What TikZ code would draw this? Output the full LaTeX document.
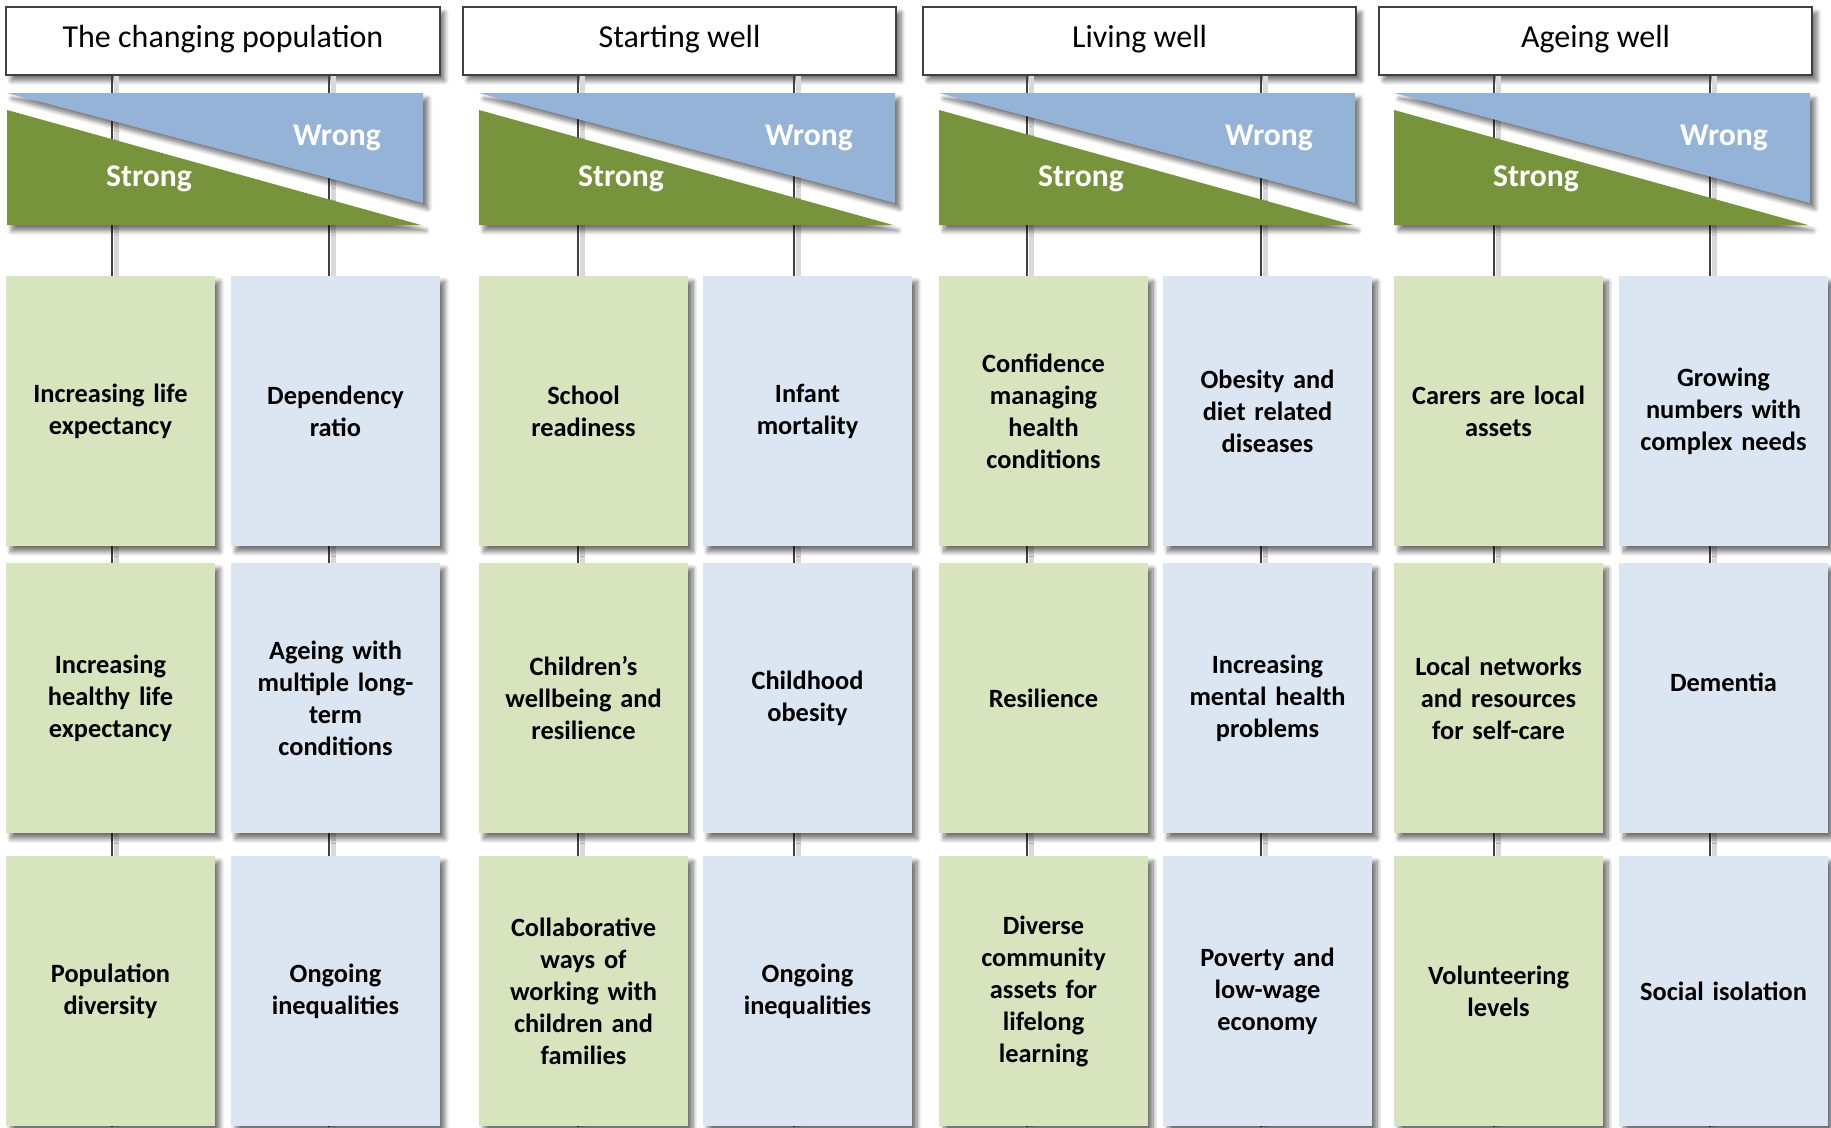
\documentclass[tikz,border=0pt]{standalone}
\usepackage{fontspec}
\setmainfont{Carlito}
\usetikzlibrary{shadows.blur}

\definecolor{gDark}{HTML}{77933C}
\definecolor{bMid}{HTML}{95B3D7}
\definecolor{gLight}{HTML}{D7E4BD}
\definecolor{bLight}{HTML}{DCE6F2}
\definecolor{edge}{HTML}{404040}

\tikzset{
  softshadow/.style={blur shadow={shadow xshift=1.4pt, shadow yshift=-1.6pt,
      shadow blur radius=1.3pt, shadow opacity=55, shadow blur steps=8}},
  card/.style={rectangle, minimum width=2.09cm, minimum height=2.70cm,
      inner sep=0pt, align=center, text width=2.05cm,
      font=\fontsize{7.5}{9.1}\selectfont\bfseries, softshadow},
  gcard/.style={card, fill=gLight},
  bcard/.style={card, fill=bLight},
  head/.style={rectangle, draw=edge, line width=0.6pt, fill=white,
      minimum width=4.33cm, minimum height=0.68cm, inner sep=0pt,
      text height=0.25cm, text depth=0.13cm,
      font=\fontsize{9.1}{11}\selectfont, softshadow},
  tag/.style={font=\fontsize{9}{11}\selectfont\bfseries, text=white,
      anchor=base, inner sep=0pt},
  link/.style={draw=edge, line width=0.6pt},
  linkshade/.style={draw=black!15, line width=1.2pt},
  greenwedge/.style={fill=gDark, softshadow},
  bluewedge/.style={fill=bMid, softshadow},
}

\begin{document}
\begin{tikzpicture}[x=0.01cm, y=-0.01cm]
\useasboundingbox (0,0) rectangle (1831,1127);

% guide positions of the vertical connectors
\coordinate (L1a) at (112,0);  \coordinate (L1b) at (329,0);
\coordinate (L2a) at (578,0);  \coordinate (L2b) at (794,0);
\coordinate (L3a) at (1027,0); \coordinate (L3b) at (1261,0);
\coordinate (L4a) at (1494,0); \coordinate (L4b) at (1710,0);
\coordinate (Bot) at (0,1127);

% column headers
\node[head] (h1) at (223,41)    {The changing population};
\node[head] (h2) at (679.5,41)  {Starting well};
\node[head] (h3) at (1139.5,41) {Living well};
\node[head] (h4) at (1595.5,41) {Ageing well};

% vertical connectors, drawn behind wedges and cards
\foreach \c in {1,2,3,4}{
  \foreach \s in {a,b}{
    \draw[linkshade] ([xshift=1.3pt]h\c.south -| L\c\s) -- ([xshift=1.3pt]L\c\s |- Bot);
    \draw[link] (h\c.south -| L\c\s) -- (L\c\s |- Bot);
  }
}

% strong / wrong wedges
\foreach \tl/\tr/\n in {7/423/1, 479/895/2, 939/1355/3, 1394/1810/4}{
  \fill[bluewedge] (\tl,93) -- (\tr,93) -- (\tr,203) -- cycle;
  \fill[greenwedge] (\tl,110) -- (\tl,225) -- (\tr-2,225) -- cycle;
  \node[tag] (s\n) at (\tl+142,186) {Strong};
  \node[tag] (w\n) at (\tl+330,145) {Wrong};
}

% column 1
\node[gcard] (g11) at (110.5,411) {Increasing life\\expectancy};
\node[bcard] (b11) at (335.5,411) {Dependency\\ratio};
\node[gcard] (g12) at (110.5,698) {Increasing\\healthy life\\expectancy};
\node[bcard] (b12) at (335.5,698) {Ageing with\\multiple long-\\term\\conditions};
\node[gcard] (g13) at (110.5,991) {Population\\diversity};
\node[bcard] (b13) at (335.5,991) {Ongoing\\inequalities};

% column 2
\node[gcard] (g21) at (583.5,411) {School\\readiness};
\node[bcard] (b21) at (807.5,411) {Infant\\mortality};
\node[gcard] (g22) at (583.5,698) {Children’s\\wellbeing and\\resilience};
\node[bcard] (b22) at (807.5,698) {Childhood\\obesity};
\node[gcard] (g23) at (583.5,991) {Collaborative\\ways of\\working with\\children and\\families};
\node[bcard] (b23) at (807.5,991) {Ongoing\\inequalities};

% column 3
\node[gcard] (g31) at (1043.5,411) {Confidence\\managing\\health\\conditions};
\node[bcard] (b31) at (1267.5,411) {Obesity and\\diet related\\diseases};
\node[gcard] (g32) at (1043.5,698) {Resilience};
\node[bcard] (b32) at (1267.5,698) {Increasing\\mental health\\problems};
\node[gcard] (g33) at (1043.5,991) {Diverse\\community\\assets for\\lifelong\\learning};
\node[bcard] (b33) at (1267.5,991) {Poverty and\\low-wage\\economy};

% column 4
\node[gcard] (g41) at (1498.5,411) {Carers are local\\assets};
\node[bcard] (b41) at (1723.5,411) {Growing\\numbers with\\complex needs};
\node[gcard] (g42) at (1498.5,698) {Local networks\\and resources\\for self-care};
\node[bcard] (b42) at (1723.5,698) {Dementia\\\mbox{}};
\node[gcard] (g43) at (1498.5,991) {Volunteering\\levels};
\node[bcard] (b43) at (1723.5,991) {Social isolation};
\end{tikzpicture}
\end{document}
